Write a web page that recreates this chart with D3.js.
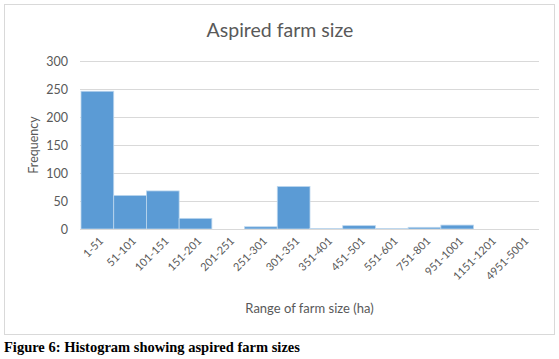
<!DOCTYPE html>
<html>
<head>
<meta charset="utf-8">
<script src="https://cdn.jsdelivr.net/npm/d3@7"></script>
<style>
  body { margin: 0; background: #fff; }
  svg { display: block; }
</style>
</head>
<body>
<svg width="559" height="359"></svg>
<script>
// bins
const RANGES = ['1-51', '51-101', '101-151', '151-201', '201-251', '251-301', '301-351',
    '351-401', '451-501', '551-601', '751-801', '951-1001', '1151-1201', '4951-5001'];
const FREQ = [246, 60, 68, 19, 0, 4, 76, 1, 6, 1, 3, 7, 0, 0];
const Y_TICKS = [0, 50, 100, 150, 200, 250, 300];

const M = { left: 80, right: 539, top: 61, bottom: 229 };
const FONT = 'Lato, "Open Sans", sans-serif';

const svg = d3.select('svg');

// chart frame
svg.append('rect')
    .attr('x', 4.5).attr('y', 4.5)
    .attr('width', 550).attr('height', 330)
    .attr('fill', '#fff')
    .attr('stroke', '#d9d9d9');

const x = d3.scaleBand().domain(RANGES).range([M.left + 1, M.right]).padding(0);
const y = d3.scaleLinear().domain([0, 300]).range([M.bottom, M.top]);

// gridlines
svg.append('g')
    .selectAll('line')
    .data(Y_TICKS)
    .enter()
    .append('line')
    .attr('x1', M.left).attr('x2', M.right)
    .attr('y1', d => Math.round(y(d)) + 0.5)
    .attr('y2', d => Math.round(y(d)) + 0.5)
    .attr('stroke', '#d9d9d9');

// y axis labels
const yAxis = svg.append('g')
    .attr('transform', `translate(${M.left - 12},0)`)
    .call(d3.axisLeft(y).tickValues(Y_TICKS).tickSize(0).tickPadding(0));
yAxis.select('.domain').remove();
yAxis.selectAll('text')
    .attr('font-family', FONT).attr('font-size', 12.5).attr('fill', '#595959');

// bars
svg.selectAll('.bar')
    .data(FREQ)
    .enter()
    .append('rect')
    .classed('bar', true)
    .attr('x', (d, i) => x(RANGES[i]))
    .attr('width', x.bandwidth())
    .attr('y', d => y(d))
    .attr('height', d => y(0) - y(d))
    .attr('fill', '#5b9bd5')
    .attr('stroke', '#bdd7ee')
    .attr('stroke-width', 0.8);

// x axis line
svg.append('line')
    .attr('x1', M.left).attr('x2', M.right)
    .attr('y1', M.bottom + 0.5).attr('y2', M.bottom + 0.5)
    .attr('stroke', '#d9d9d9');

// x labels, rotated
svg.append('g')
    .selectAll('text')
    .data(RANGES)
    .enter()
    .append('text')
    .text(d => d)
    .attr('transform', d => `translate(${x(d) + x.bandwidth() / 2 + 4},${M.bottom + 10}) rotate(-45)`)
    .attr('text-anchor', 'end')
    .attr('dy', '0.35em')
    .attr('font-family', FONT).attr('font-size', 11).attr('fill', '#595959');

// titles
svg.append('text')
    .text('Aspired farm size')
    .attr('x', 280).attr('y', 37)
    .attr('text-anchor', 'middle')
    .attr('font-family', FONT).attr('font-size', 19.5).attr('fill', '#595959');

svg.append('text')
    .text('Frequency')
    .attr('transform', `translate(38,${(M.top + M.bottom) / 2}) rotate(-90)`)
    .attr('text-anchor', 'middle')
    .attr('font-family', FONT).attr('font-size', 12.5).attr('fill', '#595959');

svg.append('text')
    .text('Range of farm size (ha)')
    .attr('x', (M.left + M.right) / 2).attr('y', 313)
    .attr('text-anchor', 'middle')
    .attr('font-family', FONT).attr('font-size', 13).attr('fill', '#595959');

// figure caption
svg.append('text')
    .text('Figure 6: Histogram showing aspired farm sizes')
    .attr('x', 4).attr('y', 352)
    .attr('font-family', '"Liberation Serif", "Times New Roman", serif')
    .attr('font-weight', 'bold').attr('font-size', 14.5).attr('fill', '#000');
</script>
</body>
</html>
